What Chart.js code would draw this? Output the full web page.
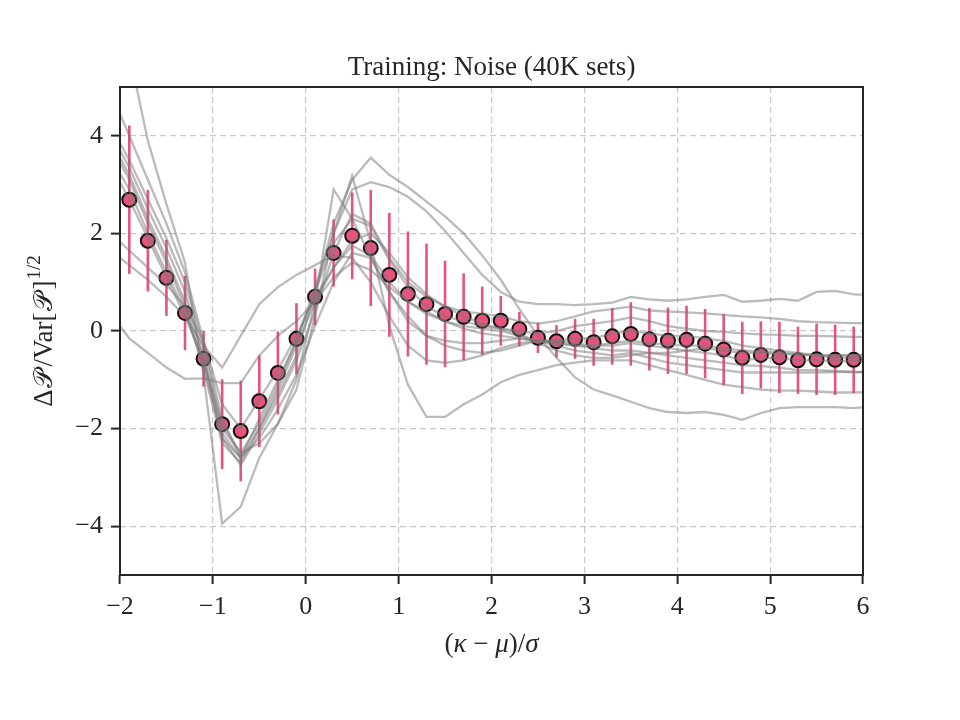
<!DOCTYPE html>
<html>
<head>
<meta charset="utf-8">
<script src="https://cdn.jsdelivr.net/npm/chart.js@4.4.0/dist/chart.umd.min.js"></script>
<style>
  html, body { margin: 0; padding: 0; background: #fff; }
  canvas { display: block; }
</style>
</head>
<body>
<canvas id="chart" width="960" height="720"></canvas>
<script>
// binned mean and spread
const binX = [-1.9, -1.7, -1.5, -1.3, -1.1, -0.9, -0.7, -0.5, -0.3, -0.1,
  0.1, 0.3, 0.5, 0.7, 0.9, 1.1, 1.3, 1.5, 1.7, 1.9,
  2.1, 2.3, 2.5, 2.7, 2.9, 3.1, 3.3, 3.5, 3.7, 3.9,
  4.1, 4.3, 4.5, 4.7, 4.9, 5.1, 5.3, 5.5, 5.7, 5.9];
const meanVals = [2.69, 1.85, 1.09, 0.37, -0.57, -1.91, -2.05, -1.44, -0.86, -0.16,
  0.70, 1.60, 1.95, 1.70, 1.15, 0.76, 0.55, 0.35, 0.29, 0.21,
  0.21, 0.04, -0.14, -0.21, -0.16, -0.23, -0.11, -0.06, -0.17, -0.20,
  -0.18, -0.26, -0.38, -0.55, -0.49, -0.54, -0.60, -0.58, -0.59, -0.59];
const errVals = [1.52, 1.04, 0.78, 0.76, 0.57, 0.92, 1.03, 0.94, 0.85, 0.73,
  0.58, 0.69, 0.89, 1.19, 1.27, 1.28, 1.24, 1.09, 0.89, 0.70,
  0.51, 0.35, 0.31, 0.33, 0.41, 0.48, 0.58, 0.65, 0.64, 0.68,
  0.70, 0.71, 0.73, 0.74, 0.69, 0.73, 0.69, 0.73, 0.72, 0.68];

// individual realisations (grey)
const runX = [-2.1, -1.9, -1.7, -1.5, -1.3, -1.1, -0.9, -0.7, -0.5, -0.3, -0.1,
  0.1, 0.3, 0.5, 0.7, 0.9, 1.1, 1.3, 1.5, 1.7, 1.9,
  2.1, 2.3, 2.5, 2.7, 2.9, 3.1, 3.3, 3.5, 3.7, 3.9,
  4.1, 4.3, 4.5, 4.7, 4.9, 5.1, 5.3, 5.5, 5.7, 5.9, 6.1];
const run1 = [8.0, 5.7, 3.9, 2.6, 1.4, -0.9, -3.95, -3.6, -2.6, -1.9, -1.0,
  0.6, 2.9, 2.3, 1.5, 0.8, 0.3, -0.1, -0.3, -0.4, -0.45,
  -0.4, -0.3, -0.2, -0.2, -0.25, -0.3, -0.3, -0.25, -0.3, -0.35,
  -0.4, -0.45, -0.5, -0.6, -0.55, -0.55, -0.6, -0.6, -0.62, -0.62, -0.62];
const run2 = [4.9, 4.0, 3.1, 2.2, 1.2, -0.2, -1.8, -2.6, -2.0, -1.3, -0.5,
  0.8, 2.2, 3.1, 3.55, 3.2, 2.95, 2.65, 2.35, 2.0, 1.55,
  1.05, 0.45, -0.1, -0.55, -0.95, -1.2, -1.32, -1.45, -1.58, -1.66,
  -1.68, -1.66, -1.72, -1.82, -1.68, -1.58, -1.56, -1.56, -1.56, -1.58, -1.55];
const run3 = [4.2, 3.5, 2.7, 1.9, 1.0, -0.3, -2.0, -2.5, -1.9, -1.1, -0.2,
  0.9, 2.0, 2.9, 3.05, 2.95, 2.75, 2.45, 2.05, 1.6, 1.15,
  0.8, 0.6, 0.55, 0.55, 0.53, 0.55, 0.58, 0.7, 0.65, 0.62,
  0.65, 0.7, 0.74, 0.6, 0.62, 0.66, 0.62, 0.8, 0.82, 0.75, 0.74];
const run4 = [4.05, 3.35, 2.5, 1.7, 0.8, -0.5, -2.2, -2.75, -2.1, -1.4, -0.6,
  0.4, 1.6, 2.4, 2.2, 1.5, 1.0, 0.7, 0.5, 0.4, 0.35,
  0.3, 0.2, 0.15, 0.2, 0.3, 0.4, 0.45, 0.5, 0.42, 0.4,
  0.38, 0.36, 0.33, 0.3, 0.28, 0.25, 0.2, 0.18, 0.17, 0.16, 0.16];
const run5 = [3.9, 3.2, 2.3, 1.5, 0.6, -0.6, -2.1, -2.6, -1.8, -1.0, -0.2,
  0.8, 1.8, 2.3, 2.15, 1.45, 0.9, 0.5, 0.3, 0.2, 0.1,
  0.05, 0.0, -0.05, 0.0, 0.1, 0.15, 0.2, 0.28, 0.2, 0.1,
  0.05, 0.0, -0.02, -0.05, -0.07, -0.08, -0.1, -0.1, -0.11, -0.12, -0.12];
const run6 = [3.8, 3.1, 2.2, 1.4, 0.5, -0.8, -2.3, -2.7, -2.0, -1.2, -0.3,
  0.6, 1.3, 1.75, 1.55, 1.0, 0.6, 0.35, 0.2, 0.05, -0.05,
  -0.1, -0.15, -0.2, -0.25, -0.3, -0.3, -0.25, -0.2, -0.25, -0.28,
  -0.3, -0.3, -0.35, -0.4, -0.42, -0.45, -0.48, -0.5, -0.5, -0.5, -0.5];
const run7 = [3.55, 2.9, 2.0, 1.2, 0.4, -0.7, -2.2, -2.6, -2.2, -1.6, -0.9,
  0.1, 1.0, 1.6, 1.5, 0.8, 0.2, -0.1, -0.2, -0.25, -0.25,
  -0.2, -0.15, -0.2, -0.3, -0.4, -0.45, -0.5, -0.45, -0.55, -0.65,
  -0.7, -0.75, -0.8, -0.85, -0.85, -0.85, -0.85, -0.85, -0.84, -0.84, -0.84];
const run8 = [3.4, 2.7, 1.9, 1.1, 0.3, -0.6, -1.9, -2.5, -2.3, -1.9, -1.2,
  0.3, 2.0, 3.18, 1.8, 0.1, -1.1, -1.76, -1.76, -1.5, -1.3,
  -1.05, -0.9, -0.8, -0.7, -0.65, -0.6, -0.6, -0.6, -0.7, -0.8,
  -0.9, -1.0, -1.1, -1.15, -1.2, -1.22, -1.22, -1.24, -1.26, -1.26, -1.25];
const run9 = [2.0, 1.65, 1.3, 0.95, 0.5, -0.2, -1.5, -2.0, -1.4, -0.8, -0.1,
  0.7, 1.3, 1.85, 2.0, 1.6, 1.1, 0.75, 0.5, 0.3, 0.15,
  0.05, -0.05, -0.25, -0.4, -0.5, -0.55, -0.55, -0.5, -0.45, -0.45,
  -0.4, -0.35, -0.4, -0.45, -0.45, -0.48, -0.48, -0.5, -0.5, -0.5, -0.5];
const run10 = [1.65, 1.35, 1.05, 0.7, 0.3, -0.3, -0.75, -0.1, 0.55, 0.9, 1.15,
  1.35, 1.55, 1.5, 1.0, 0.3, -0.3, -0.6, -0.65, -0.6, -0.5,
  -0.35, -0.25, -0.2, -0.2, -0.15, -0.15, -0.05, 0.0, -0.05, -0.1,
  -0.1, -0.15, -0.2, -0.3, -0.35, -0.4, -0.45, -0.5, -0.55, -0.55, -0.55];
const run11 = [0.35, -0.15, -0.45, -0.75, -0.98, -0.97, -1.07, -1.07, -0.5, -0.1, 0.2,
  0.6, 1.1, 1.4, 1.25, 0.9, 0.6, 0.4, 0.2, 0.1, 0.05,
  0.0, -0.1, -0.2, -0.25, -0.3, -0.35, -0.4, -0.4, -0.45, -0.5,
  -0.55, -0.6, -0.65, -0.7, -0.72, -0.75, -0.8, -0.8, -0.82, -0.84, -0.85];
const runs = [run1, run2, run3, run4, run5, run6, run7, run8, run9, run10, run11];

const xTicks = [-2, -1, 0, 1, 2, 3, 4, 5, 6];
const yTicks = [-4, -2, 0, 2, 4];

const PINK = "#e8537c";
const INK = "#262626";
const SERIF = "'Liberation Serif', 'DejaVu Serif', serif";
const fmt = v => (v < 0 ? "\u2212" + Math.abs(v) : String(v));

function drawRuns(ctx, parts, x, y) {
  let total = 0;
  parts.forEach(p => {
    ctx.font = p.font;
    p.w = ctx.measureText(p.t).width + (p.gap || 0);
    total += p.w;
  });
  let cx = x - total / 2;
  parts.forEach(p => {
    ctx.font = p.font;
    ctx.fillText(p.t, cx, y + (p.dy || 0));
    cx += p.w;
  });
}

const errorBars = {
  id: "errorBars",
  beforeDatasetDraw(chart, args) {
    if (args.index !== runs.length) return;
    const { x, y } = chart.scales;
    const ctx = chart.ctx;
    ctx.save();
    ctx.strokeStyle = PINK;
    ctx.lineWidth = 2.6;
    binX.forEach((v, i) => {
      const px = x.getPixelForValue(v);
      ctx.beginPath();
      ctx.moveTo(px, y.getPixelForValue(meanVals[i] - errVals[i]));
      ctx.lineTo(px, y.getPixelForValue(meanVals[i] + errVals[i]));
      ctx.stroke();
    });
    ctx.restore();
  }
};

const frameAndText = {
  id: "frameAndText",
  afterDraw(chart) {
    const ctx = chart.ctx;
    const a = chart.chartArea;
    ctx.save();
    ctx.strokeStyle = INK;
    ctx.lineWidth = 2;
    ctx.strokeRect(a.left, a.top, a.right - a.left, a.bottom - a.top);

    ctx.fillStyle = INK;
    ctx.textBaseline = "alphabetic";
    ctx.textAlign = "left";
    const cx = (a.left + a.right) / 2;
    const up = "27px " + SERIF;
    const it = "italic 27px " + SERIF;
    const script = "26px 'DejaVu Sans', 'Noto Sans', serif";

    // title
    drawRuns(ctx, [{ t: "Training: Noise (40K sets)", font: up }], cx, 75);

    // x label
    drawRuns(ctx, [
      { t: "(", font: up }, { t: "\u03ba", font: it }, { t: " \u2212 ", font: up },
      { t: "\u03bc", font: it }, { t: ")/", font: up }, { t: "\u03c3", font: it }
    ], cx, 652);

    // y label
    ctx.translate(52, (a.top + a.bottom) / 2);
    ctx.rotate(-Math.PI / 2);
    drawRuns(ctx, [
      { t: "\u0394", font: up, gap: 1 }, { t: "\ud835\udcab", font: script, gap: 3 }, { t: "/Var[", font: up, gap: 1 },
      { t: "\ud835\udcab", font: script, gap: 3 }, { t: "]", font: up, gap: 1 },
      { t: "1/2", font: "19px " + SERIF, dy: -12 }
    ], 0, 0);
    ctx.restore();
  }
};

const datasets = runs.map(r => ({
  type: "line",
  data: runX.map((v, i) => ({ x: v, y: r[i] })),
  borderColor: "rgba(120,120,120,0.5)",
  borderWidth: 2.3,
  pointRadius: 0,
  tension: 0,
  fill: false
}));
datasets.push({
  type: "scatter",
  data: binX.map((v, i) => ({ x: v, y: meanVals[i] })),
  backgroundColor: PINK,
  borderColor: "#111",
  borderWidth: 2,
  pointRadius: 7,
  pointHoverRadius: 7
});

new Chart(document.getElementById("chart"), {
  type: "scatter",
  data: { datasets },
  options: {
    responsive: false,
    animation: false,
    devicePixelRatio: 1,
    layout: { padding: { left: 0, right: 97, top: 87, bottom: 0 } },
    plugins: { legend: { display: false }, tooltip: { enabled: false } },
    scales: {
      x: {
        type: "linear", min: -2, max: 6,
        afterFit: s => { s.height = 145; },
        afterBuildTicks: s => { s.ticks = xTicks.map(v => ({ value: v })); },
        grid: { color: "#c8c8c8", lineWidth: 1.2, tickLength: 9, tickColor: INK, tickWidth: 2 },
        border: { display: false, dash: [6, 4] },
        ticks: { color: INK, padding: 8, font: { family: SERIF, size: 26 }, callback: v => fmt(v), maxRotation: 0 }
      },
      y: {
        min: -5, max: 5,
        afterFit: s => { s.width = 120; },
        afterBuildTicks: s => { s.ticks = yTicks.map(v => ({ value: v })); },
        grid: { color: "#c8c8c8", lineWidth: 1.2, tickLength: 9, tickColor: INK, tickWidth: 2 },
        border: { display: false, dash: [6, 4] },
        ticks: { color: INK, padding: 8, font: { family: SERIF, size: 26 }, callback: v => fmt(v) }
      }
    }
  },
  plugins: [errorBars, frameAndText]
});
</script>
</body>
</html>
